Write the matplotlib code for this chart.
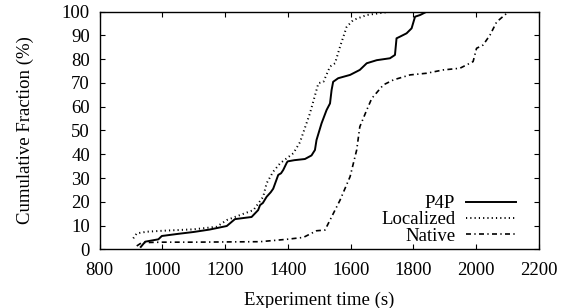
import matplotlib
matplotlib.use("Agg")
import matplotlib.pyplot as plt

plt.rcParams['font.family'] = ['Liberation Serif', 'DejaVu Serif']

p4p_x = [931, 945, 987, 998, 1050, 1100, 1150, 1205, 1231, 1284, 1305, 1311, 1320, 1332,
         1345, 1353, 1369, 1378, 1385, 1396, 1399, 1420, 1454, 1475, 1486, 1491, 1507,
         1523, 1534, 1539, 1544, 1560, 1598, 1629, 1651, 1683, 1725, 1741, 1746, 1757,
         1778, 1794, 1805, 1821, 1842, 1850]
p4p_y = [1.0, 3.2, 4.2, 5.6, 6.5, 7.3, 8.3, 9.8, 12.7, 13.6, 16.5, 18.6, 19.5, 22.1,
         24.0, 25.5, 31.3, 32.0, 33.4, 36.4, 37.0, 37.5, 38.0, 39.5, 41.8, 46.0, 53.0,
         58.6, 61.4, 67.0, 70.5, 72.0, 73.4, 75.5, 78.3, 79.6, 80.4, 81.8, 88.8, 89.5,
         90.9, 93.0, 97.9, 98.6, 100.0, 100.0]

loc_x = [907, 918, 950, 1000, 1050, 1098, 1140, 1173, 1205, 1247, 1290, 1321, 1332,
         1353, 1375, 1417, 1438, 1470, 1497, 1513, 1534, 1550, 1566, 1587, 1608, 1651,
         1725]
loc_y = [4.6, 6.7, 7.4, 7.8, 8.1, 8.4, 9.0, 9.5, 12.3, 14.4, 16.5, 22.1, 27.8,
         32.7, 36.2, 40.4, 45.0, 57.2, 69.9, 70.5, 76.9, 78.3, 85.3, 93.6, 96.5, 98.6,
         100.0]

nat_x = [918, 934, 1000, 1100, 1200, 1311, 1396, 1449, 1491, 1518, 1566, 1598, 1619,
         1629, 1651, 1667, 1704, 1736, 1789, 1842, 1895, 1948, 1990, 2001, 2022, 2044,
         2065, 2097, 2108]
nat_y = [1.4, 2.8, 3.0, 3.0, 3.1, 3.2, 4.2, 5.0, 7.8, 8.1, 20.7, 30.6, 41.8,
         51.6, 58.6, 63.5, 69.2, 71.3, 73.4, 74.1, 75.5, 76.2, 79.0, 84.6, 86.0, 90.2,
         95.7, 99.3, 100.0]

x_ticks = [800, 1000, 1200, 1400, 1600, 1800, 2000, 2200]
y_ticks = [0, 10, 20, 30, 40, 50, 60, 70, 80, 90, 100]

FS = 13.5
fig = plt.figure(figsize=(5.70, 3.08), dpi=100)
ax = fig.add_axes([0.1749, 0.1906, 0.9456 - 0.1749, 0.962 - 0.1906])

ax.plot(p4p_x, p4p_y, color='black', lw=1.4, ls='-', label='P4P')
ax.plot(loc_x, loc_y, color='black', lw=1.4, ls=(0, (0.6, 1.6)), label='Localized')
ax.plot(nat_x, nat_y, color='black', lw=1.2, ls=(0, (3, 2, 0.8, 2)), label='Native')

ax.set_xlim(800, 2200)
ax.set_ylim(0, 100)
ax.set_xticks(x_ticks)
ax.set_yticks(y_ticks)
ax.tick_params(direction='in', length=3.5, width=0.8, top=True, right=True,
               labelsize=FS, colors='black')
ax.tick_params(axis='x', pad=9.5)
ax.tick_params(axis='y', pad=7)
for s in ax.spines.values():
    s.set_linewidth(1.0)

ax.set_xlabel('Experiment time (s)', fontsize=FS, labelpad=9)
ax.set_ylabel('Cumulative Fraction (%)', fontsize=FS, labelpad=20)

leg = ax.legend(loc='lower right', bbox_to_anchor=(0.9477, 0.02), frameon=False,
                fontsize=FS, markerfirst=False, handlelength=2.67, handletextpad=0.57,
                labelspacing=-0.05, borderaxespad=0.0, borderpad=0.0)
for t in leg.get_texts():
    t.set_ha('right')

fig.savefig('out.png', dpi=100)
